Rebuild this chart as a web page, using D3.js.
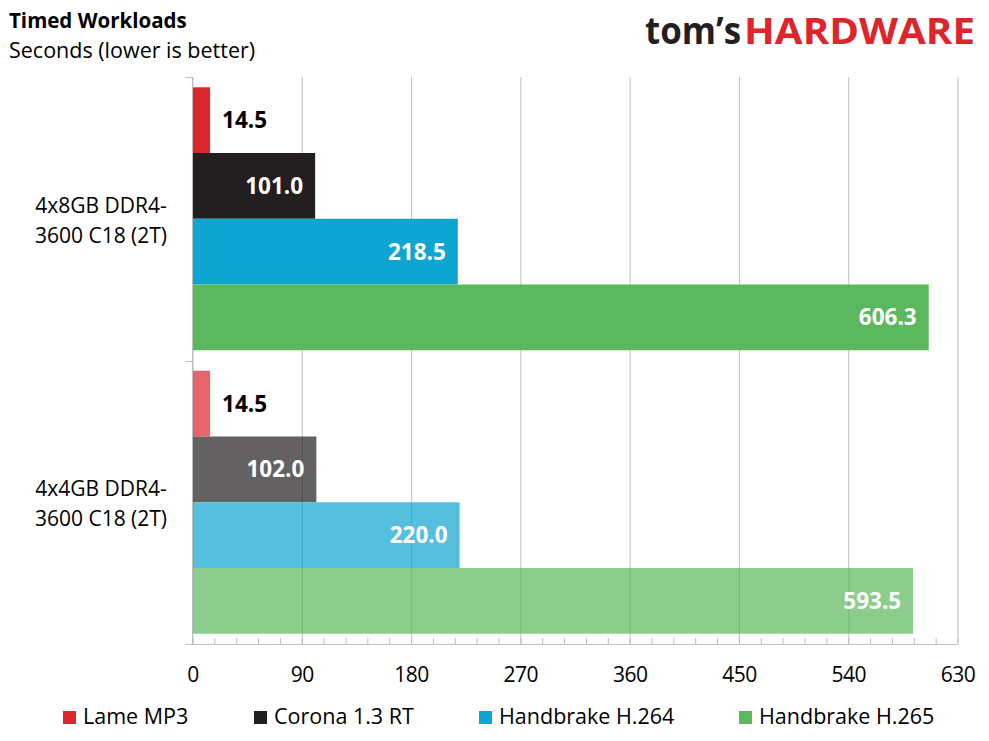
<!DOCTYPE html>
<html>
<head>
<meta charset="utf-8">
<script src="https://cdn.jsdelivr.net/npm/d3@7"></script>
<style>
  body { margin: 0; background: #fff; }
  text { font-family: "Open Sans", Lato, sans-serif; }
</style>
</head>
<body>
<script>
// data
const categories = ['4x8GB DDR4-3600 C18 (2T)', '4x4GB DDR4-3600 C18 (2T)']
const categoryLines = [['4x8GB DDR4-', '3600 C18 (2T)'], ['4x4GB DDR4-', '3600 C18 (2T)']]
const series = ['Lame MP3', 'Corona 1.3 RT', 'Handbrake H.264', 'Handbrake H.265']
const kit8GB = [14.5, 101.0, 218.5, 606.3]
const kit4GB = [14.5, 102.0, 220.0, 593.5]
const xTicks = [0, 90, 180, 270, 360, 450, 540, 630]
const colors = ['#dc272d', '#231f20', '#0ea5d0', '#5bb85e']

const WIDTH = 989
const HEIGHT = 741
const LEFT = 192.5, RIGHT = 957.5, TOP = 77, BOTTOM = 644

const svg = d3.select('body').append('svg')
  .attr('width', WIDTH).attr('height', HEIGHT)

const values = [kit8GB, kit4GB]

const x = d3.scaleLinear().domain([0, 630]).range([LEFT, RIGHT])
const y = d3.scaleBand().domain(categories).range([TOP, BOTTOM]).padding(0)
const ySub = d3.scaleBand().domain(series).range([0, y.bandwidth()])
  .paddingInner(0).paddingOuter(0.156)

// title
svg.append('text').attr('x', 9).attr('y', 28)
  .attr('font-size', 20.5).attr('font-weight', 700).attr('fill', '#000')
  .text('Timed Workloads')
svg.append('text').attr('x', 9).attr('y', 58)
  .attr('font-size', 21.5).attr('fill', '#000')
  .text('Seconds (lower is better)')

// logo
svg.append('text').attr('x', 645).attr('y', 44)
  .attr('font-family', 'Roboto, sans-serif')
  .attr('font-size', 37).attr('font-weight', 700).attr('fill', '#231f20')
  .attr('textLength', 96).attr('lengthAdjust', 'spacingAndGlyphs')
  .text('tom\u2019s')
svg.append('text').attr('x', 744).attr('y', 44)
  .attr('font-family', 'Roboto, sans-serif')
  .attr('font-size', 36).attr('font-weight', 700).attr('fill', '#e0242c')
  .attr('textLength', 231).attr('lengthAdjust', 'spacingAndGlyphs')
  .text('HARDWARE')

// gridlines
svg.append('g')
  .attr('transform', `translate(0,${BOTTOM})`)
  .call(d3.axisBottom(x).tickValues(xTicks).tickSize(-(BOTTOM - TOP)).tickFormat(''))
  .call(g => g.select('.domain').remove())
  .call(g => g.selectAll('line').attr('stroke', '#bfbfbf'))

// minor ticks
svg.append('g')
  .attr('transform', `translate(0,${BOTTOM})`)
  .call(d3.axisBottom(x).tickValues(d3.range(0, 631, 18)).tickSize(-6).tickFormat(''))
  .call(g => g.select('.domain').remove())
  .call(g => g.selectAll('line').attr('stroke', '#bfbfbf'))

// bars
const groups = svg.selectAll('g.cat')
  .data(categories)
  .enter()
  .append('g')
  .attr('class', 'cat')
  .attr('transform', d => `translate(0,${y(d)})`)
  .attr('opacity', (d, i) => i === 0 ? 1 : 0.7)

groups.selectAll('rect')
  .data((d, i) => values[i].map((v, j) => ({ s: series[j], v, j })))
  .enter()
  .append('rect')
  .attr('x', x(0))
  .attr('y', d => ySub(d.s))
  .attr('width', d => x(d.v) - x(0))
  .attr('height', ySub.bandwidth())
  .attr('fill', d => colors[d.j])

// value labels
svg.selectAll('g.lab')
  .data(categories)
  .enter()
  .append('g')
  .attr('transform', d => `translate(0,${y(d)})`)
  .selectAll('text')
  .data((d, i) => values[i].map((v, j) => ({ s: series[j], v, j })))
  .enter()
  .append('text')
  .each(function (d) {
    const inside = x(d.v) - x(0) > 70
    d3.select(this)
      .attr('x', inside ? x(d.v) - 12 : x(d.v) + 12)
      .attr('text-anchor', inside ? 'end' : 'start')
      .attr('fill', inside ? '#fff' : '#000')
  })
  .attr('y', d => ySub(d.s) + ySub.bandwidth() / 2)
  .attr('dy', '0.36em')
  .attr('font-size', 22.5).attr('font-weight', 700)
  .text(d => d.v.toFixed(1))

// axis lines
svg.append('line')
  .attr('x1', x(0)).attr('x2', x(0)).attr('y1', TOP).attr('y2', BOTTOM)
  .attr('stroke', '#bfbfbf')
svg.append('line')
  .attr('x1', x(0) - 7).attr('x2', RIGHT).attr('y1', BOTTOM + 0.5).attr('y2', BOTTOM + 0.5)
  .attr('stroke', '#bfbfbf')

// category boundary ticks
svg.selectAll('line.ctick')
  .data([TOP, y(categories[1]), BOTTOM])
  .enter()
  .append('line')
  .attr('x1', x(0) - 7).attr('x2', x(0))
  .attr('y1', d => Math.round(d) + 0.5).attr('y2', d => Math.round(d) + 0.5)
  .attr('stroke', '#bfbfbf')

// x tick labels
svg.append('g')
  .attr('transform', `translate(0,${BOTTOM})`)
  .call(d3.axisBottom(x).tickValues(xTicks).tickSize(0).tickPadding(23))
  .call(g => g.select('.domain').remove())
  .call(g => g.selectAll('text')
    .attr('font-family', '"Open Sans", sans-serif')
    .attr('font-size', 21).attr('fill', '#000')
    .attr('letter-spacing', -0.5))

// category labels
svg.selectAll('text.cat')
  .data(categories)
  .enter()
  .append('text')
  .attr('class', 'cat')
  .attr('text-anchor', 'middle')
  .attr('font-size', 21).attr('fill', '#000')
  .attr('x', 101)
  .attr('y', d => y(d) + y.bandwidth() / 2 - 6)
  .selectAll('tspan')
  .data((d, i) => categoryLines[i])
  .enter()
  .append('tspan')
  .attr('x', 101)
  .attr('dy', (d, i) => i === 0 ? 0 : 30)
  .text(d => d)

// legend
const legendX = [63, 254, 479, 739]
const legend = svg.selectAll('g.leg')
  .data(series)
  .enter()
  .append('g')
  .attr('transform', (d, i) => `translate(${legendX[i]},724)`)
legend.append('rect')
  .attr('x', 0).attr('y', -13).attr('width', 13).attr('height', 13)
  .attr('fill', (d, i) => colors[i])
legend.append('text')
  .attr('x', 20).attr('y', 0)
  .attr('font-size', 21.5).attr('fill', '#000')
  .text(d => d)
</script>
</body>
</html>
